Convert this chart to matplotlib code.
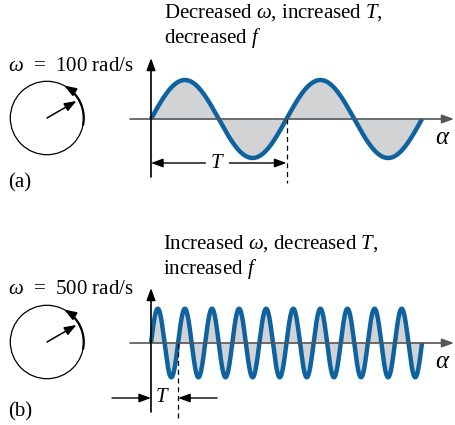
import numpy as np
import matplotlib
matplotlib.use("Agg")
import matplotlib.pyplot as plt
import matplotlib.transforms as mtransforms
from matplotlib.patches import Circle

plt.rcParams["font.family"] = ["Liberation Serif", "DejaVu Serif"]
plt.rcParams["mathtext.fontset"] = "custom"
plt.rcParams["mathtext.rm"] = "Liberation Serif"
plt.rcParams["mathtext.it"] = "Liberation Serif:italic"

# --- data ---
panel_labels = ["(a)", "(b)"]
omega_values = [100, 500]          # rad/s
cycles = [2, 10]                   # periods shown on the alpha axis
peaks = [1.0, 0.88]                # relative amplitude
captions = [r"Decreased $\omega$, increased $T$," + "\n" + r"decreased $f$",
            r"Increased $\omega$, decreased $T$," + "\n" + r"increased $f$"]

W, H = 456, 425
BLUE = "#0e62a0"
GRAY = "#d1d3d5"
FS = 15

fig = plt.figure(figsize=(W / 100, H / 100), dpi=100)
bg = fig.add_axes([0, 0, 1, 1])
bg.set_xlim(0, W)
bg.set_ylim(H, 0)
bg.axis("off")

AX_X = 151        # pixel column of the vertical axis
WAVE_W = 271      # pixel width of the drawn wave
PX_PER_UNIT = 39  # pixel height of amplitude 1


def arrow(ax, start, end, color="black", lw=1.0, **kw):
    ax.annotate("", xy=end, xytext=start, annotation_clip=False,
                arrowprops=dict(arrowstyle="-|>,head_length=0.6,head_width=0.22",
                                mutation_scale=12, color=color, lw=lw,
                                shrinkA=0, shrinkB=0), **kw)


def draw_panel(i, axis_y, y_top, y_bot, t_style):
    # phasor circle
    cx, cy, r = 47, axis_y - 1, 36.7
    bg.add_patch(Circle((cx, cy), r, fill=False, lw=0.9, color="black"))
    th = np.radians(np.linspace(-10, 55, 50))
    bg.plot(cx + r * np.cos(th), cy - r * np.sin(th), color="black", lw=1.6)
    t2 = np.radians([55, 62])
    arrow(bg, (cx + r * np.cos(t2[0]), cy - r * np.sin(t2[0])),
          (cx + r * np.cos(t2[1]), cy - r * np.sin(t2[1])), lw=1.2)
    ang = np.radians(30)
    arrow(bg, (cx, cy), (cx + 0.93 * r * np.cos(ang), cy - 0.93 * r * np.sin(ang)), lw=1.1)

    bg.text(8, cy - 52, r"$\omega$  =  " + f"{omega_values[i]} rad/s", fontsize=FS,
            va="center", ha="left")
    bg.text(8, y_bot + 6 if i == 0 else y_bot, panel_labels[i], fontsize=FS,
            va="center", ha="left")

    # wave axes in alpha (rad) units
    n = cycles[i]
    rpp = 2 * np.pi * n / WAVE_W
    top, bot = axis_y - 80, axis_y + 80
    ax = fig.add_axes([0, 1 - bot / H, 1, (bot - top) / H])
    ax.set_xlim(-AX_X * rpp, (W - AX_X) * rpp)
    ax.set_ylim(-80 / PX_PER_UNIT, 80 / PX_PER_UNIT)
    ax.axis("off")
    ax.patch.set_alpha(0)

    def py(p):
        return (axis_y - p) / PX_PER_UNIT

    alpha = np.linspace(0, 2 * np.pi * n, 3000)
    y = peaks[i] * np.sin(alpha)
    ax.fill_between(alpha, y, 0, color=GRAY, lw=0)
    ax.plot(alpha, y, color=BLUE, lw=3.2, solid_capstyle="butt")

    # axes arrows
    arrow(ax, (130 / W, 0), (454 / W, 0), color="#555555", lw=1.2,
          xycoords=("axes fraction", "data"), textcoords=("axes fraction", "data"))
    arrow(ax, (0, py(y_bot)), (0, py(y_top)), lw=1.2)
    blend = mtransforms.blended_transform_factory(ax.transAxes, ax.transData)
    ax.text(443 / W, py(axis_y + 19), r"$\alpha$", fontsize=18, ha="center",
            va="center", transform=blend)

    # period marker
    period = 2 * np.pi
    ax.plot([period, period], [0, py(y_bot + 6)], color="black", lw=0.9, ls=(0, (4, 3)))
    ty = py(y_bot - 14)
    if t_style == "inside":
        mid = period / 2 * 0.98
        ax.text(mid, ty, r"$T$", fontsize=FS, ha="center", va="center")
        arrow(ax, (mid - 12 * rpp, ty), (0, ty), lw=1.0)
        arrow(ax, (mid + 12 * rpp, ty), (period, ty), lw=1.0)
    else:
        ax.text(period / 2 * 0.86, ty, r"$T$", fontsize=FS, ha="center", va="center")
        arrow(ax, (-39 * rpp, ty), (0, ty), lw=1.0)
        arrow(ax, (period + 39 * rpp, ty), (period, ty), lw=1.0)


# caption texts
bg.text(164, 26, captions[0], fontsize=FS, ha="left", va="center", linespacing=1.2)
bg.text(163, 257, captions[1], fontsize=FS, ha="left", va="center", linespacing=1.2)

draw_panel(0, 119, 58, 177, "inside")
draw_panel(1, 343, 288, 412, "outside")

fig.savefig("out.png", dpi=100)
